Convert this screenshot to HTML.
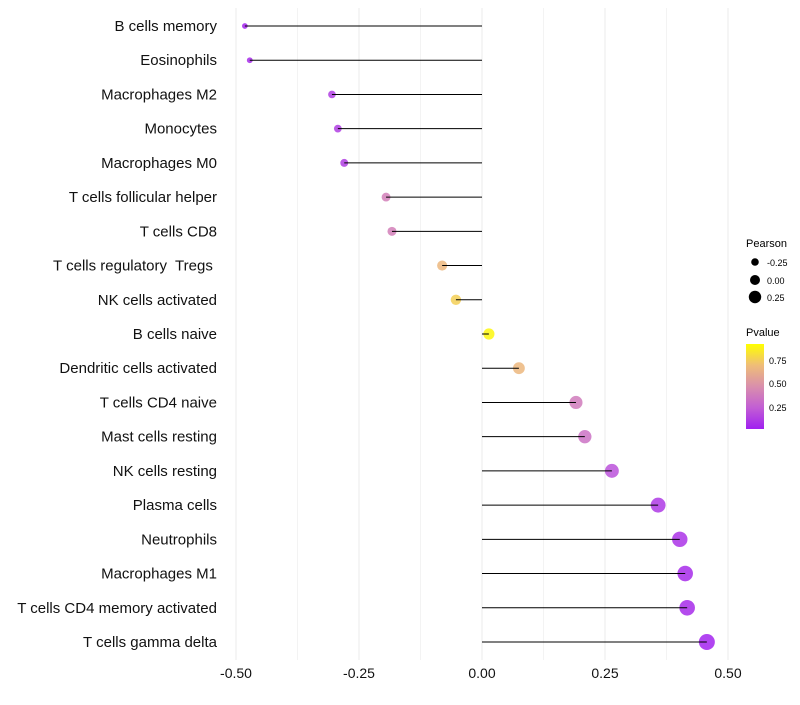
<!DOCTYPE html>
<html><head><meta charset="utf-8"><style>
body{margin:0;background:#fff;font-family:"Liberation Sans",sans-serif}
text{white-space:pre}
</style></head><body>
<svg id="chart" width="800" height="700" xmlns="http://www.w3.org/2000/svg" font-family="Liberation Sans, sans-serif">
<g id="grid"></g><g id="marks"></g><g id="labels"></g>
<g font-size="10">
<text x="746" y="247" font-size="11">Pearson</text>
<circle cx="755" cy="262" r="3.8" fill="#000"/><text x="767" y="266" font-size="9">-0.25</text>
<circle cx="755" cy="280" r="5" fill="#000"/><text x="767" y="284" font-size="9">0.00</text>
<circle cx="755" cy="297" r="6.2" fill="#000"/><text x="767" y="301" font-size="9">0.25</text>
</g>
<g>
<text x="746" y="336" font-size="11">Pvalue</text>
<defs><linearGradient id="pg" x1="0" y1="1" x2="0" y2="0">
<stop offset="0" stop-color="#a020f0"/><stop offset="0.25" stop-color="#c25ed4"/><stop offset="0.5" stop-color="#d98fac"/><stop offset="0.75" stop-color="#efbd78"/><stop offset="1" stop-color="#ffff00"/></linearGradient></defs>
<rect x="746" y="344" width="18" height="85" fill="url(#pg)"/>
<text x="769" y="364" font-size="9">0.75</text>
<text x="769" y="387" font-size="9">0.50</text>
<text x="769" y="411" font-size="9">0.25</text>
</g>
</svg>
<script>
const categories=["B cells memory","Eosinophils","Macrophages M2","Monocytes","Macrophages M0","T cells follicular helper","T cells CD8","T cells regulatory  Tregs ","NK cells activated","B cells naive","Dendritic cells activated","T cells CD4 naive","Mast cells resting","NK cells resting","Plasma cells","Neutrophils","Macrophages M1","T cells CD4 memory activated","T cells gamma delta"];
const pearson=[-0.482,-0.472,-0.305,-0.293,-0.28,-0.195,-0.183,-0.081,-0.053,0.014,0.075,0.191,0.209,0.264,0.358,0.402,0.413,0.417,0.457];
const pvalue=[0.02,0.05,0.12,0.12,0.12,0.42,0.42,0.72,0.82,0.97,0.72,0.4,0.35,0.2,0.1,0.08,0.05,0.05,0.02];
const xTicks=[-0.5,-0.25,0,0.25,0.5];
const xTickLabels=["-0.50","-0.25","0.00","0.25","0.50"];
const NS="http://www.w3.org/2000/svg";
const x=v=>482+v*492;
const y=i=>26+i*(616/18);
const stops=[[0,[160,32,240]],[0.25,[194,94,212]],[0.5,[217,143,172]],[0.75,[239,189,120]],[1,[255,255,0]]];
function col(p){for(let k=1;k<stops.length;k++){if(p<=stops[k][0]){const a=stops[k-1],b=stops[k],t=(p-a[0])/(b[0]-a[0]);return 'rgb('+a[1].map((c,j)=>Math.round(c+(b[1][j]-c)*t)).join(',')+')';}}return 'rgb(255,255,0)';}
function mk(t,attrs,parent){const e=document.createElementNS(NS,t);for(const k in attrs)e.setAttribute(k,attrs[k]);document.getElementById(parent).appendChild(e);return e;}
for(let g=-0.5;g<=0.5001;g+=0.125){const l=mk('line',{x1:x(g),x2:x(g),y1:8,y2:660,stroke:'#ebebeb','stroke-width':g*8%2===0?1:0.6},'grid');

}
xTicks.forEach((v,i)=>{const t=mk('text',{x:x(v),y:678,'text-anchor':'middle','font-size':14,fill:'#111'},'labels');t.textContent=xTickLabels[i];

});
categories.forEach((c,i)=>{
const t=mk('text',{x:217,y:y(i)+5,'text-anchor':'end','font-size':15,fill:'#111'},'labels');t.textContent=c;


const d=mk('circle',{cx:x(pearson[i]),cy:y(i),r:Math.max(2,5.5+5.5*pearson[i]),fill:col(pvalue[i]),'fill-opacity':0.85},'marks');


const l=mk('line',{x1:x(0),x2:x(pearson[i]),y1:y(i),y2:y(i),stroke:'#000','stroke-width':1},'marks');


});
</script>
</body></html>
